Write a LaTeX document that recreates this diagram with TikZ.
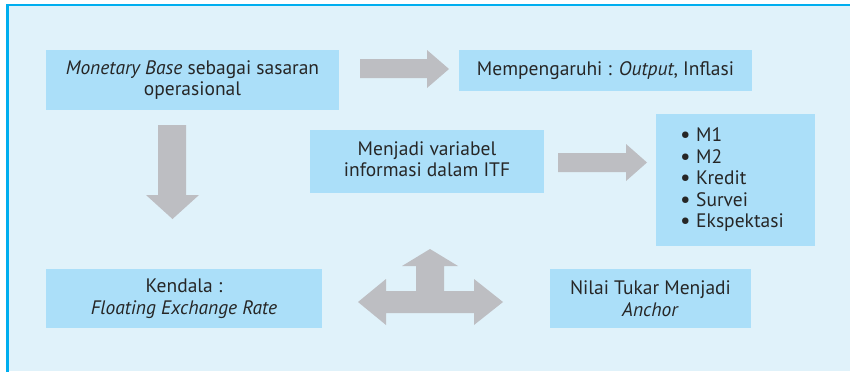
\documentclass[tikz,border=0pt]{standalone}
\usepackage{fontspec}
\setmainfont{PT Sans}
\definecolor{bgc}{HTML}{E0F2FA}
\definecolor{boxc}{HTML}{ABDFF9}
\definecolor{framec}{HTML}{00AEEF}
\definecolor{arrc}{HTML}{BDBEC2}
\definecolor{txtc}{HTML}{262626}
\tikzset{
  infobox/.style={rectangle, fill=boxc, inner sep=0pt, align=center, text=txtc,
    font=\fontsize{19.5}{21.5}\selectfont},
  blockarrow/.style={fill=arrc, draw=none}
}
\newcommand{\bul}{\makebox[16pt][l]{\smash{\raisebox{-1pt}{\scalebox{1.2}{\textbullet}}}}}
\begin{document}
\begin{tikzpicture}[x=1pt,y=-1pt]
\useasboundingbox (0,0) rectangle (850,372);
% frame
\fill[bgc] (6,4) rectangle (850,371);
\draw[framec, line width=2.3pt] (6,5.2) -- (850,5.2);
\draw[framec, line width=2.5pt] (7.3,4) -- (7.3,372);
% boxes
\node[infobox, minimum width=293pt, minimum height=60pt] (mb) at (192.5,80)
  {\textit{Monetary Base} sebagai sasaran\\operasional};
\node[infobox, minimum width=293pt, minimum height=40.7pt] (mp) at (605.5,70.3)
  {Mempengaruhi : \textit{Output}, Inflasi};
\node[infobox, minimum width=234pt, minimum height=63pt] (mv) at (427,161.5)
  {\raisebox{-3pt}{\begin{tabular}{@{}c@{}}Menjadi variabel\\informasi dalam ITF\end{tabular}}};
\node[infobox, anchor=west, text width=111pt, inner xsep=24pt, minimum height=132pt, align=left] (bl) at (656,180)
  {\bul M1\\\bul M2\\\bul Kredit\\\bul Survei\\\bul Ekspektasi};
\node[infobox, minimum width=276pt, minimum height=59pt] (kd) at (184,298.5)
  {Kendala :\\\textit{Floating Exchange Rate}};
\node[infobox, minimum width=201pt, minimum height=59pt] (nt) at (650.5,298.5)
  {Nilai Tukar Menjadi\\\textit{Anchor}};
% arrows
\fill[blockarrow] (360,59) -- (427,59) -- (427,50) -- (449,69) -- (427,88) -- (427,78) -- (360,78) -- cycle;
\fill[blockarrow] (558,153) -- (626,153) -- (626,144) -- (647,162.5) -- (626,181) -- (626,172) -- (558,172) -- cycle;
\fill[blockarrow] (158,125) -- (186,125) -- (186,195) -- (199,195) -- (172.5,219) -- (146,195) -- (158,195) -- cycle;
\fill[blockarrow] (358,302) -- (386,279) -- (386,291) -- (416,291) -- (416,266) -- (402,266) -- (430,249) -- (458,266) -- (444,266) -- (444,291) -- (474,291) -- (474,279) -- (503,302) -- (474,325) -- (474,313) -- (386,313) -- (386,325) -- cycle;
\end{tikzpicture}
\end{document}
